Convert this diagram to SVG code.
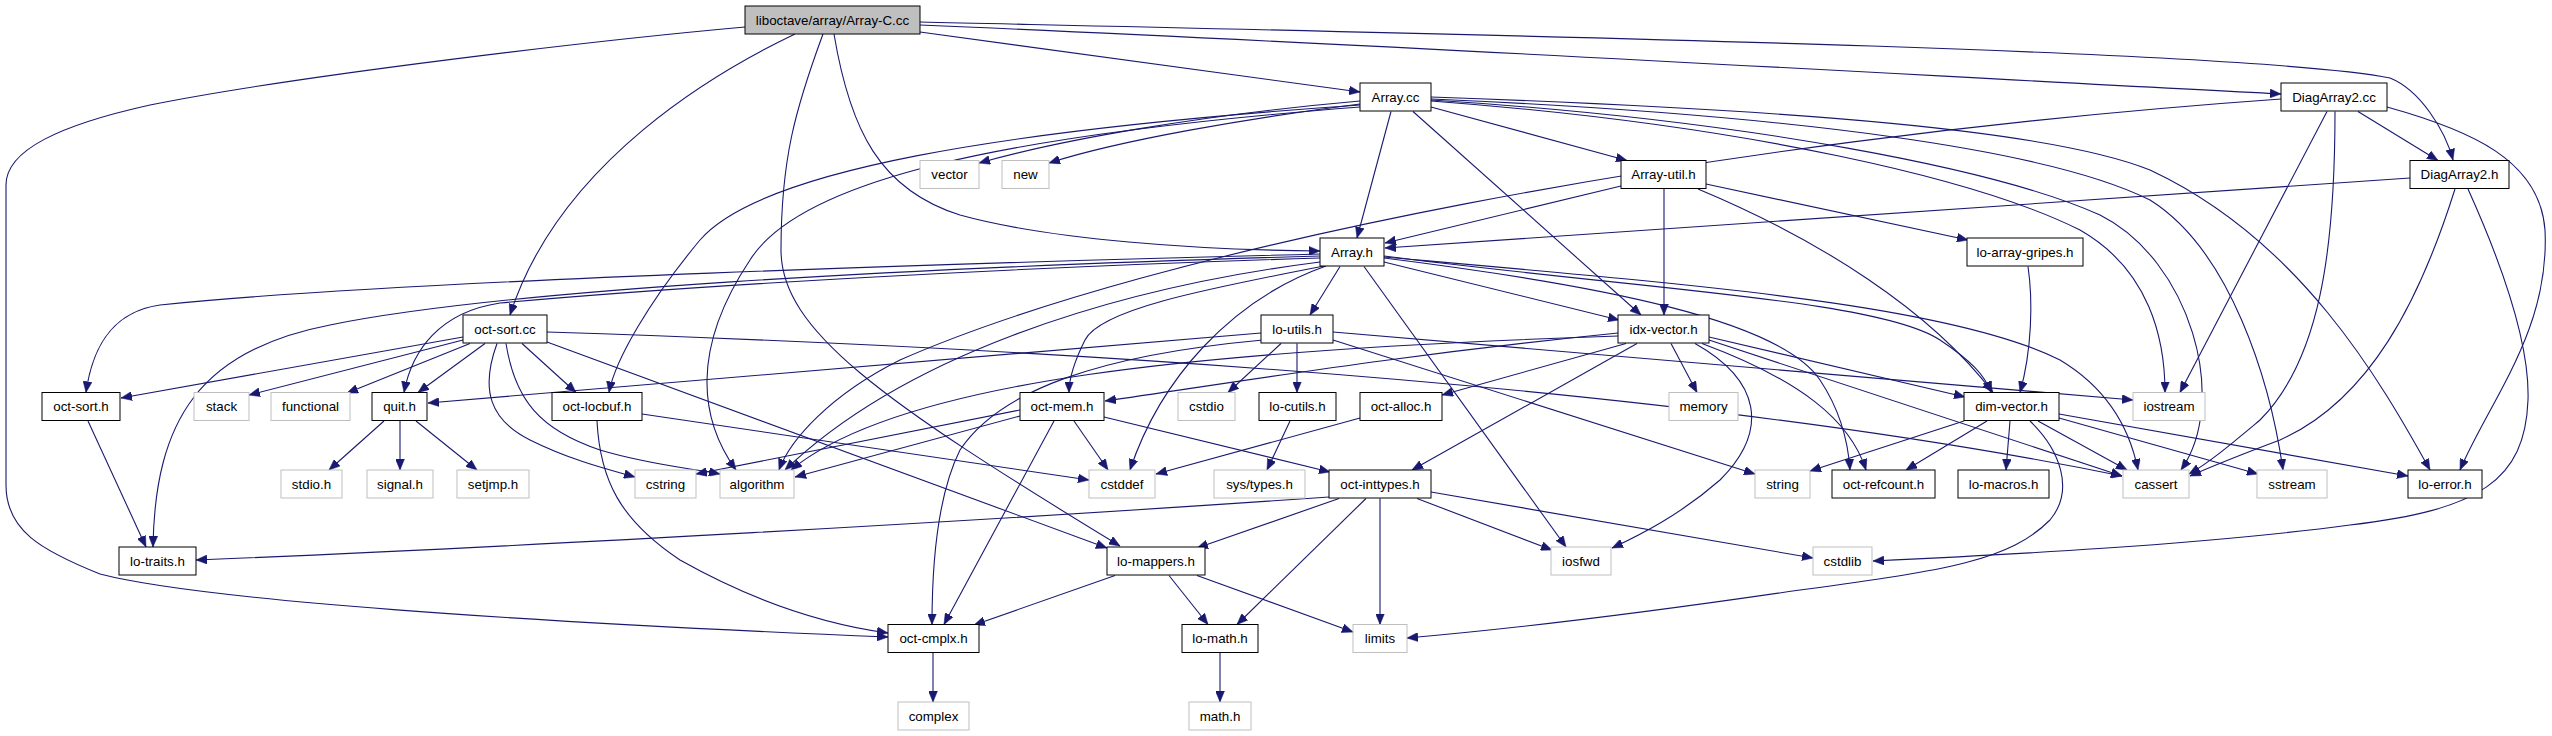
<svg xmlns="http://www.w3.org/2000/svg" width="2552" height="736" viewBox="0 0 2552 736">
<defs>
<marker id="a" viewBox="0 0 11 9" refX="11" refY="4.5" markerWidth="11" markerHeight="9" markerUnits="userSpaceOnUse" orient="auto">
<path d="M0,0 L11,4.5 L0,9 z" fill="#191970" stroke="#191970" stroke-width="0.5"/>
</marker>
<style>
.node rect{fill:#ffffff;stroke:#000000;stroke-width:1}
.sys rect{fill:#ffffff;stroke:#bfbfbf;stroke-width:1}
.root rect{fill:#bfbfbf;stroke:#000000;stroke-width:1}
text{font-family:"Liberation Sans",Arial,sans-serif;font-size:13.33px;text-anchor:middle;fill:#000000}
#edges path{fill:none;stroke:#191970;stroke-width:1.1;marker-end:url(#a)}
</style>
</defs>
<rect x="0" y="0" width="2552" height="736" fill="#ffffff"/>
<g id="edges">
<path d="M745,27 C600,40 300,75 150,105 C60,125 6,150 6,185 L6,485 C6,530 40,550 100,574 C200,600 520,622 888,637"/>
<path d="M795,34 C720,70 560,160 510,315"/>
<path d="M823,34 C795,110 781,160 781,250 C781,330 880,400 1120,546"/>
<path d="M834,34 C850,130 880,190 960,215 C1050,240 1200,250 1320,251"/>
<path d="M920,22 C1500,35 2250,50 2390,78 C2420,90 2445,130 2453,160"/>
<path d="M920,25 C1400,45 2000,80 2281,94"/>
<path d="M920,32 L1360,92"/>
<path d="M1360,101 C1200,115 1060,140 979,163"/>
<path d="M1360,104 C1250,118 1120,140 1049,163"/>
<path d="M1360,107 C1000,135 800,180 750,260 C690,350 700,420 736,470"/>
<path d="M1360,105 C1000,130 760,170 700,240 C650,300 615,360 609,392.5"/>
<path d="M1391,111.5 L1357,238"/>
<path d="M1413,111.5 L1641,315"/>
<path d="M1431,107 L1627,160.5"/>
<path d="M1431,97 C1800,110 2050,130 2150,170 C2300,240 2380,380 2430,470"/>
<path d="M1431,99 C1800,115 2050,150 2150,200 C2230,250 2270,380 2283,470"/>
<path d="M1431,100 C1750,120 2000,170 2100,215 C2190,260 2230,400 2181,470"/>
<path d="M1431,101 C1750,125 1980,180 2080,230 C2150,270 2165,340 2165,392.5"/>
<path d="M2358,111.5 L2438,160.5"/>
<path d="M2327,111.5 L2180,392.5"/>
<path d="M2335,111.5 C2335,250 2320,360 2260,420 C2230,445 2210,462 2189,474"/>
<path d="M2387,107 C2470,130 2540,160 2545,230 C2550,330 2490,400 2460,470"/>
<path d="M2281,99 C1700,140 1150,250 900,360 C830,395 790,440 779,470"/>
<path d="M2410,178 L1385,248"/>
<path d="M2455,189 C2420,300 2370,400 2280,440 C2240,455 2215,465 2190,476"/>
<path d="M2468,189 C2500,260 2530,340 2528,400 C2525,480 2480,510 2350,525 C2200,545 2000,555 1873,561"/>
<path d="M1621,186 L1385,243"/>
<path d="M1664,189 L1664,315"/>
<path d="M1698,189 C1820,240 1930,310 1993,392.5"/>
<path d="M1706,184 L1968,240"/>
<path d="M2028,266.5 C2033,300 2032,350 2020,392.5"/>
<path d="M1320,254 C1000,262 400,280 160,305 C110,312 92,350 86,392.5"/>
<path d="M1320,256 C900,268 500,290 330,325 C200,350 155,420 153,547"/>
<path d="M1320,258 C1000,268 700,285 500,303 C440,312 412,350 404,392.5"/>
<path d="M1324,266 C1200,290 1100,310 1085,340 C1074,362 1069,380 1069,392.5"/>
<path d="M1340,266.5 L1310,315"/>
<path d="M1326,266 C1230,300 1160,380 1130,470"/>
<path d="M1320,262 C1100,290 900,360 785,470"/>
<path d="M1384,262 L1619,320"/>
<path d="M1384,256 C1650,290 1880,300 1940,340 C1970,360 1985,375 1991,392.5"/>
<path d="M1384,258 C1600,285 1780,320 1820,380 C1840,410 1848,440 1850,470"/>
<path d="M1384,257 C1700,285 1950,305 2060,360 C2110,390 2130,430 2138,470"/>
<path d="M1364,266.5 L1566,547"/>
<path d="M1261,333 L428,403"/>
<path d="M1281,343.5 L1228,392.5"/>
<path d="M1297,343.5 L1297,392.5"/>
<path d="M1333,332 L2133,400"/>
<path d="M1333,340 L1755,474"/>
<path d="M1263,340 C1100,355 1000,390 960,450 C935,500 932,580 932,624.5"/>
<path d="M1618,333 C1400,355 1250,380 1105,401"/>
<path d="M1618,336 C1200,350 900,380 791,470"/>
<path d="M1626,343.5 L1442,395"/>
<path d="M1637,343.5 L1412,470"/>
<path d="M1671,343.5 L1697,392.5"/>
<path d="M1695,343.5 C1760,380 1770,430 1720,480 C1680,515 1640,535 1612,548"/>
<path d="M1702,343.5 C1800,380 1850,420 1866,470"/>
<path d="M1709,340 L2122,476"/>
<path d="M1709,337 L1965,397"/>
<path d="M1964,421 L1810,471"/>
<path d="M1987,421 L1906,470"/>
<path d="M2010,421 L2006,470"/>
<path d="M2038,421 L2127,470"/>
<path d="M2030,421 C2060,450 2075,490 2050,520 C2010,560 1950,570 1800,590 C1650,612 1500,630 1407,638"/>
<path d="M2059,418 L2258,474"/>
<path d="M2059,414 L2408,476"/>
<path d="M384,421 L329,470"/>
<path d="M400,421 L400,470"/>
<path d="M416,421 L477,470"/>
<path d="M463,337 L121,398"/>
<path d="M463,340 L249,395"/>
<path d="M470,343.5 L347,393"/>
<path d="M485,343.5 L418,392.5"/>
<path d="M497,343.5 C480,390 490,420 530,440 C570,460 610,470 635,477"/>
<path d="M506,343.5 C515,400 540,430 600,450 C650,465 690,468 720,474"/>
<path d="M522,343.5 L576,392.5"/>
<path d="M547,342 L1107,548"/>
<path d="M547,332 C1100,350 1700,390 2122,476"/>
<path d="M642,414 L1089,480"/>
<path d="M597,421 C600,480 620,520 680,560 C760,605 830,625 888,633"/>
<path d="M1020,410 L696,474"/>
<path d="M1020,416 L795,477"/>
<path d="M1074,421 L1108,470"/>
<path d="M1054,421 L944,624.5"/>
<path d="M1104,417 L1330,472"/>
<path d="M88,421 L146,547"/>
<path d="M1290,421 L1267,470"/>
<path d="M1360,418 L1156,474"/>
<path d="M1329,497 C1000,520 500,548 196,560"/>
<path d="M1339,498.5 L1197,548"/>
<path d="M1366,498.5 L1237,624.5"/>
<path d="M1380,498.5 L1380,624.5"/>
<path d="M1417,498.5 L1552,550"/>
<path d="M1431,492 L1813,558"/>
<path d="M1115,575.5 L974,625"/>
<path d="M1169,575.5 L1208,624.5"/>
<path d="M1197,575.5 L1353,632"/>
<path d="M933,652.5 L933,702"/>
<path d="M1220,652.5 L1220,702"/>
</g>
<g id="n_root" class="root"><rect x="745" y="6" width="175" height="28"/><text x="832.5" y="24.5">liboctave/array/Array-C.cc</text></g>
<g id="n_Array_cc" class="node"><rect x="1360" y="83" width="71" height="28"/><text x="1395.5" y="101.5">Array.cc</text></g>
<g id="n_DiagArray2_cc" class="node"><rect x="2281" y="83" width="106" height="28"/><text x="2334" y="101.5">DiagArray2.cc</text></g>
<g id="n_vector" class="sys"><rect x="920" y="160.5" width="59" height="28"/><text x="949.5" y="179">vector</text></g>
<g id="n_new" class="sys"><rect x="1002" y="160.5" width="47" height="28"/><text x="1025.5" y="179">new</text></g>
<g id="n_Array_util_h" class="node"><rect x="1621" y="160.5" width="85" height="28"/><text x="1663.5" y="179">Array-util.h</text></g>
<g id="n_DiagArray2_h" class="node"><rect x="2410" y="160.5" width="99" height="28"/><text x="2459.5" y="179">DiagArray2.h</text></g>
<g id="n_Array_h" class="node"><rect x="1320" y="238" width="64" height="28"/><text x="1352" y="256.5">Array.h</text></g>
<g id="n_lo_array_gripes_h" class="node"><rect x="1967" y="238" width="116" height="28"/><text x="2025" y="256.5">lo-array-gripes.h</text></g>
<g id="n_oct_sort_cc" class="node"><rect x="463" y="315" width="84" height="28"/><text x="505" y="333.5">oct-sort.cc</text></g>
<g id="n_lo_utils_h" class="node"><rect x="1261" y="315" width="72" height="28"/><text x="1297" y="333.5">lo-utils.h</text></g>
<g id="n_idx_vector_h" class="node"><rect x="1618" y="315" width="91" height="28"/><text x="1663.5" y="333.5">idx-vector.h</text></g>
<g id="n_oct_sort_h" class="node"><rect x="42" y="392.5" width="78" height="28"/><text x="81" y="411">oct-sort.h</text></g>
<g id="n_stack" class="sys"><rect x="194" y="392.5" width="55" height="28"/><text x="221.5" y="411">stack</text></g>
<g id="n_functional" class="sys"><rect x="271" y="392.5" width="79" height="28"/><text x="310.5" y="411">functional</text></g>
<g id="n_quit_h" class="node"><rect x="372" y="392.5" width="55" height="28"/><text x="399.5" y="411">quit.h</text></g>
<g id="n_oct_locbuf_h" class="node"><rect x="552" y="392.5" width="90" height="28"/><text x="597" y="411">oct-locbuf.h</text></g>
<g id="n_oct_mem_h" class="node"><rect x="1020" y="392.5" width="84" height="28"/><text x="1062" y="411">oct-mem.h</text></g>
<g id="n_cstdio" class="sys"><rect x="1178" y="392.5" width="57" height="28"/><text x="1206.5" y="411">cstdio</text></g>
<g id="n_lo_cutils_h" class="node"><rect x="1259" y="392.5" width="77" height="28"/><text x="1297.5" y="411">lo-cutils.h</text></g>
<g id="n_oct_alloc_h" class="node"><rect x="1360" y="392.5" width="82" height="28"/><text x="1401" y="411">oct-alloc.h</text></g>
<g id="n_memory" class="sys"><rect x="1669" y="392.5" width="69" height="28"/><text x="1703.5" y="411">memory</text></g>
<g id="n_dim_vector_h" class="node"><rect x="1964" y="392.5" width="95" height="28"/><text x="2011.5" y="411">dim-vector.h</text></g>
<g id="n_iostream" class="sys"><rect x="2133" y="392.5" width="72" height="28"/><text x="2169" y="411">iostream</text></g>
<g id="n_stdio_h" class="sys"><rect x="281" y="470" width="61" height="28"/><text x="311.5" y="488.5">stdio.h</text></g>
<g id="n_signal_h" class="sys"><rect x="367" y="470" width="66" height="28"/><text x="400" y="488.5">signal.h</text></g>
<g id="n_setjmp_h" class="sys"><rect x="457" y="470" width="72" height="28"/><text x="493" y="488.5">setjmp.h</text></g>
<g id="n_cstring" class="sys"><rect x="635" y="470" width="61" height="28"/><text x="665.5" y="488.5">cstring</text></g>
<g id="n_algorithm" class="sys"><rect x="720" y="470" width="74" height="28"/><text x="757" y="488.5">algorithm</text></g>
<g id="n_cstddef" class="sys"><rect x="1089" y="470" width="66" height="28"/><text x="1122" y="488.5">cstddef</text></g>
<g id="n_sys_types_h" class="sys"><rect x="1214" y="470" width="91" height="28"/><text x="1259.5" y="488.5">sys/types.h</text></g>
<g id="n_oct_inttypes_h" class="node"><rect x="1329" y="470" width="102" height="28"/><text x="1380" y="488.5">oct-inttypes.h</text></g>
<g id="n_string" class="sys"><rect x="1755" y="470" width="55" height="28"/><text x="1782.5" y="488.5">string</text></g>
<g id="n_oct_refcount_h" class="node"><rect x="1832" y="470" width="103" height="28"/><text x="1883.5" y="488.5">oct-refcount.h</text></g>
<g id="n_lo_macros_h" class="node"><rect x="1958" y="470" width="91" height="28"/><text x="2003.5" y="488.5">lo-macros.h</text></g>
<g id="n_cassert" class="sys"><rect x="2123" y="470" width="66" height="28"/><text x="2156" y="488.5">cassert</text></g>
<g id="n_sstream" class="sys"><rect x="2257" y="470" width="70" height="28"/><text x="2292" y="488.5">sstream</text></g>
<g id="n_lo_error_h" class="node"><rect x="2408" y="470" width="74" height="28"/><text x="2445" y="488.5">lo-error.h</text></g>
<g id="n_lo_traits_h" class="node"><rect x="119" y="547" width="77" height="28"/><text x="157.5" y="565.5">lo-traits.h</text></g>
<g id="n_lo_mappers_h" class="node"><rect x="1107" y="547" width="98" height="28"/><text x="1156" y="565.5">lo-mappers.h</text></g>
<g id="n_iosfwd" class="sys"><rect x="1551" y="547" width="60" height="28"/><text x="1581" y="565.5">iosfwd</text></g>
<g id="n_cstdlib" class="sys"><rect x="1813" y="547" width="59" height="28"/><text x="1842.5" y="565.5">cstdlib</text></g>
<g id="n_oct_cmplx_h" class="node"><rect x="888" y="624.5" width="91" height="28"/><text x="933.5" y="643">oct-cmplx.h</text></g>
<g id="n_lo_math_h" class="node"><rect x="1182" y="624.5" width="76" height="28"/><text x="1220" y="643">lo-math.h</text></g>
<g id="n_limits" class="sys"><rect x="1353" y="624.5" width="54" height="28"/><text x="1380" y="643">limits</text></g>
<g id="n_complex" class="sys"><rect x="898" y="702" width="71" height="28"/><text x="933.5" y="720.5">complex</text></g>
<g id="n_math_h" class="sys"><rect x="1189" y="702" width="62" height="28"/><text x="1220" y="720.5">math.h</text></g>
</svg>
